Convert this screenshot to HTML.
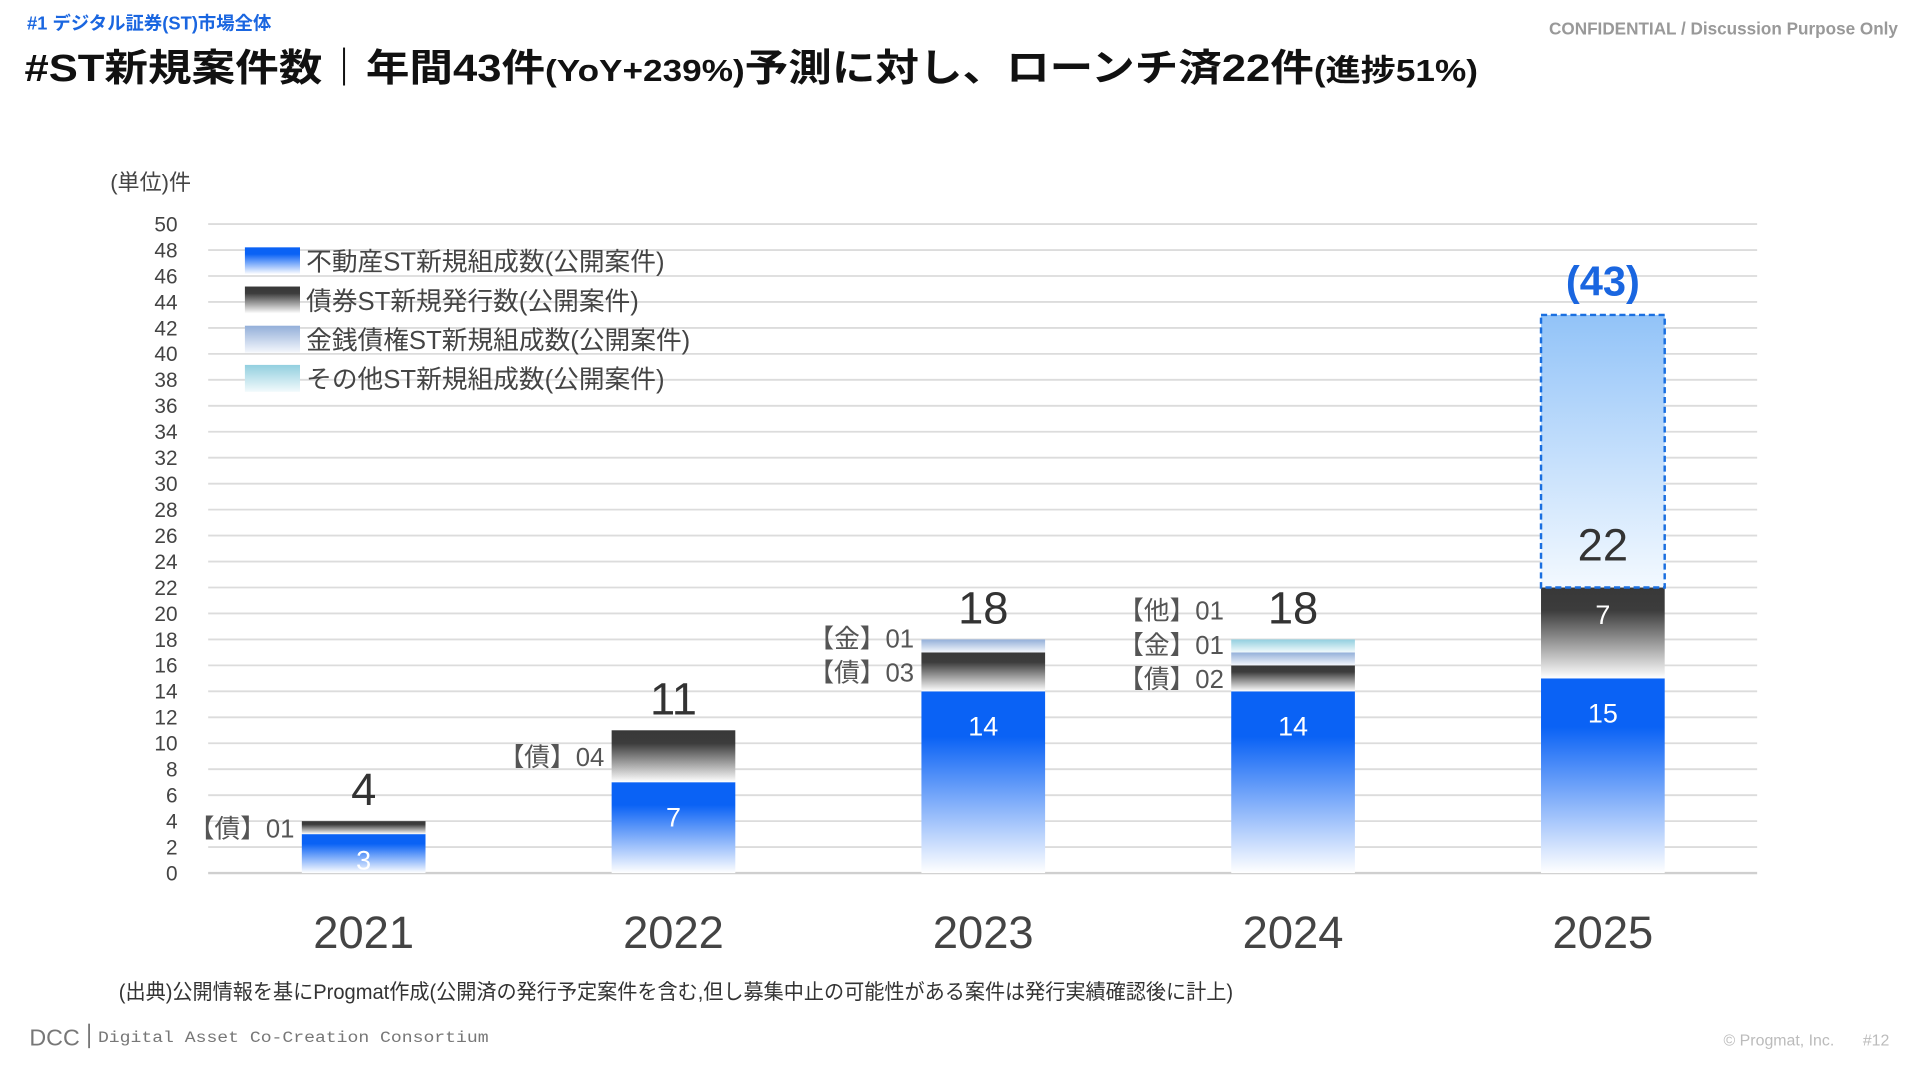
<!DOCTYPE html>
<html><head><meta charset="utf-8"><style>
html,body{margin:0;padding:0;background:#fff;width:1920px;height:1080px;overflow:hidden}
svg{display:block}
text{font-family:"Liberation Sans","Noto Sans CJK JP",sans-serif}
</style></head><body>
<svg id="chart" width="1920" height="1080" viewBox="0 0 1568 882" preserveAspectRatio="none" xmlns="http://www.w3.org/2000/svg">
<defs>
<linearGradient id="gBlue" x1="0" y1="0" x2="0" y2="1"><stop offset="0" stop-color="#0a62f5"/><stop offset="0.25" stop-color="#0a62f5"/><stop offset="1" stop-color="#ffffff"/></linearGradient>
<linearGradient id="gDark" x1="0" y1="0" x2="0" y2="1"><stop offset="0" stop-color="#383838"/><stop offset="0.25" stop-color="#3c3c3c"/><stop offset="1" stop-color="#ffffff"/></linearGradient>
<linearGradient id="gMon" x1="0" y1="0" x2="0" y2="1"><stop offset="0" stop-color="#93afd9"/><stop offset="1" stop-color="#f4f7fc"/></linearGradient>
<linearGradient id="gOth" x1="0" y1="0" x2="0" y2="1"><stop offset="0" stop-color="#92cfdf"/><stop offset="1" stop-color="#f2fafc"/></linearGradient>
<linearGradient id="gFc" x1="0" y1="0" x2="0" y2="1"><stop offset="0" stop-color="#92c3f8"/><stop offset="1" stop-color="#f3f9ff"/></linearGradient>
</defs>
<text x="22" y="24" font-size="15" font-weight="bold" fill="#1a66e0">#1 デジタル証券(ST)市場全体</text>
<text x="1550" y="28" font-size="14" font-weight="bold" fill="#999" text-anchor="end">CONFIDENTIAL / Discussion Purpose Only</text>
<text x="20" y="66" font-size="31" font-weight="bold" fill="#111" textLength="1187" lengthAdjust="spacingAndGlyphs">#ST新規案件数｜年間43件<tspan font-size="25">(YoY+239%)</tspan>予測に対し、ローンチ済22件<tspan font-size="25">(進捗51%)</tspan></text>
<text x="90" y="155" font-size="18" fill="#444">(単位)件</text>
<g id="grid"></g><g id="bars"></g><g id="labels"></g>
<g id="legend"></g>
<text x="97" y="816" font-size="17" fill="#333" textLength="910" lengthAdjust="spacingAndGlyphs">(出典)公開情報を基にProgmat作成(公開済の発行予定案件を含む,但し募集中止の可能性がある案件は発行実績確認後に計上)</text>
<text x="24" y="854" font-size="19" fill="#777">DCC</text>
<rect x="72" y="836" width="1.5" height="20" fill="#777"/>
<text x="80" y="851" font-size="13" fill="#777" style="font-family:'Liberation Mono',monospace" textLength="319" lengthAdjust="spacingAndGlyphs">Digital Asset Co-Creation Consortium</text>
<text x="1498" y="854" font-size="13" fill="#bbb" text-anchor="end">© Progmat, Inc.</text>
<text x="1543" y="854" font-size="13" fill="#bbb" text-anchor="end">#12</text>
</svg>
<script>
const years=["2021","2022","2023","2024","2025"];
const realEstate=[3,7,14,14,15];
const bonds=[1,4,3,2,7];
const monetary=[0,0,1,1,0];
const others=[0,0,0,1,0];
const forecastExtra=[0,0,0,0,21];
const forecastTotal=[null,null,null,null,43];
const yTicks=[0,2,4,6,8,10,12,14,16,18,20,22,24,26,28,30,32,34,36,38,40,42,44,46,48,50];
const legendNames=["不動産ST新規組成数(公開案件)","債券ST新規発行数(公開案件)","金銭債権ST新規組成数(公開案件)","その他ST新規組成数(公開案件)"];
const tags=["債","金","他"];

const NS="http://www.w3.org/2000/svg";
const y0=713,yTop=183,yMax=50,x0=170,x1=1435;
const y=v=>y0-(v/yMax)*(y0-yTop);
const bandW=(x1-x0)/years.length;
const xc=i=>x0+bandW*(i+0.5)+0.5;
const bw=101;
function mk(tag,attrs,parent,txt){const e=document.createElementNS(NS,tag);for(const k in attrs)e.setAttribute(k,attrs[k]);if(txt!==undefined)e.textContent=txt;parent.appendChild(e);return e;}
const grid=document.getElementById('grid'),bars=document.getElementById('bars'),labels=document.getElementById('labels'),legend=document.getElementById('legend');
yTicks.forEach(t=>{
  const l=mk('line',{x1:x0,x2:x1,y1:y(t),y2:y(t),stroke:t===0?'#cfcfcf':'#dcdcdc','stroke-width':t===0?2:1.5},grid);
  
  
  const tx=mk('text',{x:145,y:y(t)+6,'font-size':17,fill:'#444','text-anchor':'end'},grid,String(t));
  
  
});
const series=[[realEstate,'gBlue','real-estate'],[bonds,'gDark','bond'],[monetary,'gMon','monetary'],[others,'gOth','other']];
years.forEach((yr,i)=>{
  const cx=xc(i),left=cx-bw/2;let cum=0;const segs=[];
  series.forEach(([arr,g,nm],si)=>{
    const v=arr[i];if(!v)return;
    const r=mk('rect',{x:left,y:y(cum+v),width:bw,height:y(cum)-y(cum+v),fill:'url(#'+g+')'},bars);
    
    
    segs.push({si,v,mid:(y(cum)+y(cum+v))/2});
    cum+=v;
  });
  const tot=cum;
  const rv=realEstate[i];
  const rl=mk('text',{x:cx,y:Math.min(y(rv)+36,y(0)-3),'font-size':22,fill:'#fff','text-anchor':'middle'},labels,String(rv));
  
  
  if(forecastExtra[i]){
    const bv=bonds[i];
    const bl=mk('text',{x:cx,y:y(rv+bv)+30,'font-size':22,fill:'#fff','text-anchor':'middle'},labels,String(bv));
    
    
    const f=mk('rect',{x:left,y:y(tot+forecastExtra[i]),width:bw,height:y(tot)-y(tot+forecastExtra[i]),fill:'url(#gFc)',stroke:'#1a6fe0','stroke-width':2,'stroke-dasharray':'5,3'},bars);
    
    
    const t2=mk('text',{x:cx,y:y(tot)-22,'font-size':37,fill:'#333','text-anchor':'middle'},labels,String(tot));
    
    
    const t3=mk('text',{x:cx,y:y(forecastTotal[i])-16,'font-size':34,'font-weight':'bold',fill:'#1a66e0','text-anchor':'middle'},labels,'('+forecastTotal[i]+')');
    
    
  } else {
    const tl=mk('text',{x:cx,y:y(tot)-13,'font-size':37,fill:'#333','text-anchor':'middle'},labels,String(tot));
    
    
    let prevY=1e9;
    segs.filter(s=>s.si>0).forEach(s=>{
      let ly=Math.min(s.mid+8,prevY-28);prevY=ly;
      const sl=mk('text',{x:left-6,y:ly,'font-size':21,fill:'#555','text-anchor':'end'},labels,'【'+tags[s.si-1]+'】'+String(s.v).padStart(2,'0'));
      
      
    });
  }
  const xl=mk('text',{x:cx,y:774,'font-size':37,fill:'#444','text-anchor':'middle'},labels,yr);
  
  
});
const lg=['gBlue','gDark','gMon','gOth'];
legendNames.forEach((n,k)=>{
  const yy=202+k*32;
  const s=mk('rect',{x:200,y:yy,width:45,height:22,fill:'url(#'+lg[k]+')'},legend);
  
  
  const t=mk('text',{x:250,y:yy+19,'font-size':21,fill:'#444'},legend,n);
  
  
});
</script>
</body></html>
